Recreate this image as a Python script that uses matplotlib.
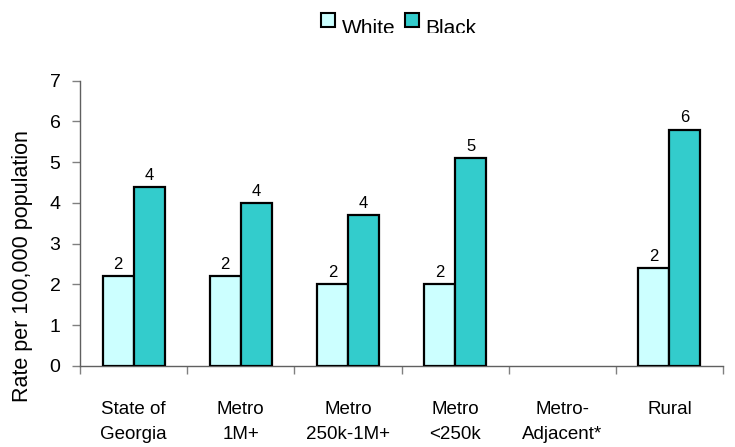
import numpy as np
import matplotlib
matplotlib.use("Agg")
import matplotlib.pyplot as plt
from matplotlib.patches import Rectangle
from matplotlib.transforms import Bbox, TransformedBbox

plt.rcParams["font.family"] = ["Liberation Sans", "DejaVu Sans"]

# Data
categories = ["State of\nGeorgia", "Metro\n1M+", "Metro\n250k-1M+", "Metro\n<250k",
              "Metro-\nAdjacent*", "Rural"]
series = ["White", "Black"]
white_rate = [2.2, 2.2, 2.0, 2.0, np.nan, 2.4]
black_rate = [4.4, 4.0, 3.7, 5.1, np.nan, 5.8]
colors = ["#CCFFFF", "#33CCCC"]
y_ticks = [0, 1, 2, 3, 4, 5, 6, 7]
y_label = "Rate per 100,000 population"

W, H = 735, 447
fig = plt.figure(figsize=(W / 100, H / 100), dpi=100)
fig.patch.set_facecolor("white")

ax = fig.add_axes([80 / W, 81 / H, (723 - 80) / W, (366 - 80.7) / H])

n = len(categories)
centers = np.arange(n) + 0.5
bw = 0.29
offsets = [-bw / 2, bw / 2]

for vals, col, off in zip([white_rate, black_rate], colors, offsets):
    vals = np.asarray(vals, dtype=float)
    ok = ~np.isnan(vals)
    bars = ax.bar(centers[ok] + off, vals[ok], width=bw, color=col,
                  edgecolor="black", linewidth=1.6, zorder=3)
    ax.bar_label(bars, labels=[f"{v:.0f}" for v in vals[ok]], padding=3,
                 fontsize=12, color="black")

ax.set_xlim(0, n)
ax.set_ylim(0, 7)

# category boundaries get tick marks, labels sit at category centres
ax.set_xticks(np.arange(n + 1))
ax.set_xticklabels([])
ax.set_xticks(centers, minor=True)
ax.set_xticklabels(categories, minor=True, fontsize=13.5, linespacing=1.6)
ax.tick_params(axis="x", which="minor", length=0, pad=25)
ax.tick_params(axis="x", which="major", length=6, width=1, color="#808080",
               direction="out")

ax.set_yticks(y_ticks)
ax.set_yticklabels([str(t) for t in y_ticks], fontsize=14)
ax.tick_params(axis="y", length=6, width=1, color="#808080", direction="out", pad=8)

for s in ["top", "right"]:
    ax.spines[s].set_visible(False)
for s in ["left", "bottom"]:
    ax.spines[s].set_color("#606060")
    ax.spines[s].set_linewidth(1.0)

fig.text(23 / W, (H - 266) / H, y_label, fontsize=15.5, rotation=90,
         ha="center", va="center")

# legend row at the top, text clipped along its lower edge
clip = TransformedBbox(Bbox([[0, (H - 33) / H], [1, 1]]), fig.transFigure)
legend_pos = [(321, 342), (404.5, 425)]
for name, col, (sx, tx) in zip(series, colors, legend_pos):
    fig.add_artist(Rectangle((sx / W, (H - 27) / H), 14 / W, 14 / H,
                             transform=fig.transFigure, facecolor=col,
                             edgecolor="black", linewidth=1.5))
    t = fig.text(tx / W, (H - 33.5) / H, name, fontsize=15, ha="left",
                 va="baseline")
    t.set_clip_box(clip)
    t.set_clip_on(True)

fig.savefig("out.png", dpi=100)
